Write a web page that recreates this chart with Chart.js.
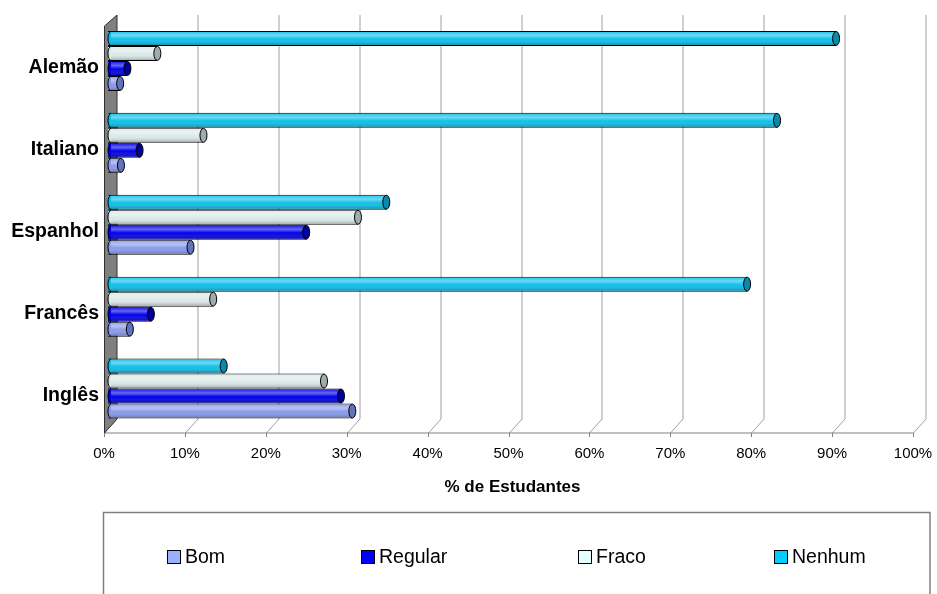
<!DOCTYPE html>
<html>
<head>
<meta charset="utf-8">
<script src="https://cdn.jsdelivr.net/npm/chart.js@4.4.1/dist/chart.umd.min.js"></script>
<style>
  html, body { margin: 0; padding: 0; background: #ffffff; }
  #wrap { width: 937px; height: 594px; position: relative; }
</style>
</head>
<body>
<div id="wrap"><canvas id="c" width="937" height="594"></canvas></div>
<script>
// ---- data ----
const categories = ['Alemão', 'Italiano', 'Espanhol', 'Francês', 'Inglês'];
const seriesNames = ['Bom', 'Regular', 'Fraco', 'Nenhum'];
const bom     = [1.5, 1.6, 10.2, 2.7, 30.2];
const regular = [2.4, 3.9, 24.5, 5.3, 28.8];
const fraco   = [6.1, 11.8, 30.9, 13.0, 26.7];
const nenhum  = [90.0, 82.7, 34.4, 79.0, 14.3];
const xTicks  = [0, 10, 20, 30, 40, 50, 60, 70, 80, 90, 100];
const axisTitle = '% de Estudantes';

// ---- styles ----
const fills = { Bom: '#8a9aea', Regular: '#0000e8', Fraco: '#dce9e9', Nenhum: '#0ebfe8' };
const caps  = { Bom: '#6272bc', Regular: '#000096', Fraco: '#a0acac', Nenhum: '#0a8aab' };
const legendFills = { Bom: '#99b0ff', Regular: '#0000ff', Fraco: '#e6ffff', Nenhum: '#00ccff' };
const FONT = "'Liberation Sans', Arial, sans-serif";
const DEPTH_X = 12.5, DEPTH_Y = 14, BAR_SHIFT = 4;

const valuesByName = { Bom: bom, Regular: regular, Fraco: fraco, Nenhum: nenhum };
// top-to-bottom order inside each group
const drawOrder = ['Nenhum', 'Fraco', 'Regular', 'Bom'];

const datasets = drawOrder.map(n => ({
  label: n,
  data: valuesByName[n],
  backgroundColor: fills[n],
  borderColor: '#000000',
  borderWidth: 1,
  categoryPercentage: 0.733,
  barPercentage: 1.0
}));

const wallAndGrid = {
  id: 'wallAndGrid',
  beforeDatasetsDraw(chart) {
    const ctx = chart.ctx;
    const xs = chart.scales.x;
    const ca = chart.chartArea;
    const frontY = ca.bottom + 3.5;
    const backY = frontY - DEPTH_Y;
    const topY = ca.top - 5;
    ctx.save();
    ctx.strokeStyle = '#a0a0a0';
    ctx.lineWidth = 1;
    xTicks.forEach(v => {
      const fx = Math.round(xs.getPixelForValue(v) - BAR_SHIFT) + 0.5;
      const bx = fx + DEPTH_X;
      if (v > 0) {
        ctx.beginPath(); ctx.moveTo(bx, topY); ctx.lineTo(bx, backY); ctx.stroke();
      }
      ctx.beginPath(); ctx.moveTo(fx, frontY); ctx.lineTo(bx, backY); ctx.stroke();
    });
    ctx.strokeStyle = '#808080';
    const x0 = Math.round(xs.getPixelForValue(0) - BAR_SHIFT) + 0.5;
    const x1 = Math.round(xs.getPixelForValue(100) - BAR_SHIFT) + 0.5;
    ctx.beginPath(); ctx.moveTo(x0, frontY); ctx.lineTo(x1, frontY); ctx.stroke();
    xTicks.forEach(v => {
      const fx = Math.round(xs.getPixelForValue(v) - BAR_SHIFT) + 0.5;
      ctx.beginPath(); ctx.moveTo(fx, frontY); ctx.lineTo(fx, frontY + 4); ctx.stroke();
    });
    ctx.fillStyle = '#808080';
    ctx.strokeStyle = '#303030';
    ctx.beginPath();
    ctx.moveTo(x0, frontY);
    ctx.lineTo(x0, topY + DEPTH_Y - 3);
    ctx.lineTo(x0 + DEPTH_X, topY);
    ctx.lineTo(x0 + DEPTH_X, backY);
    ctx.closePath();
    ctx.fill(); ctx.stroke();
    ctx.restore();
  },
  afterDatasetsDraw(chart) {
    const ctx = chart.ctx;
    ctx.save();
    chart.data.datasets.forEach((ds, di) => {
      const meta = chart.getDatasetMeta(di);
      meta.data.forEach(el => {
        const p = el.getProps(['x', 'y', 'base', 'height'], true);
        const top = p.y - p.height / 2, h = p.height;
        const g = ctx.createLinearGradient(0, top, 0, top + h);
        g.addColorStop(0, 'rgba(255,255,255,0.05)');
        g.addColorStop(0.3, 'rgba(255,255,255,0.40)');
        g.addColorStop(0.55, 'rgba(255,255,255,0.0)');
        g.addColorStop(1, 'rgba(0,0,0,0.35)');
        ctx.fillStyle = g;
        ctx.fillRect(p.base, top + 1, p.x - p.base, h - 2);
        // left rounded end
        ctx.beginPath();
        ctx.ellipse(p.base + 3, p.y, 3, h / 2 - 0.5, 0, Math.PI / 2, Math.PI * 1.5);
        ctx.fillStyle = ds.backgroundColor; ctx.fill();
        ctx.strokeStyle = '#000'; ctx.lineWidth = 1; ctx.stroke();
        // right end cap
        ctx.beginPath();
        ctx.ellipse(p.x, p.y, 3.5, h / 2 - 0.5, 0, 0, Math.PI * 2);
        ctx.fillStyle = caps[ds.label]; ctx.fill();
        ctx.stroke();
      });
    });
    ctx.restore();
  },
  afterDraw(chart) {
    const ctx = chart.ctx;
    ctx.save();
    ctx.strokeStyle = '#808080';
    ctx.lineWidth = 1.5;
    ctx.strokeRect(103.5, 512.5, 826.5, 140);
    ctx.font = '19.5px ' + FONT;
    ctx.textBaseline = 'middle';
    ctx.textAlign = 'left';
    seriesNames.forEach((n, i) => {
      const tw = ctx.measureText(n).width;
      const w = 13 + 5 + tw;
      const cx = 196 + 208 * i;
      const sx = Math.round(cx - w / 2);
      ctx.fillStyle = legendFills[n];
      ctx.fillRect(sx + 0.5, 550.5, 13, 13);
      ctx.strokeStyle = '#000'; ctx.lineWidth = 1;
      ctx.strokeRect(sx + 0.5, 550.5, 13, 13);
      ctx.fillStyle = '#000';
      ctx.fillText(n, sx + 18, 557.5);
    });
    ctx.restore();
  }
};

new Chart(document.getElementById('c'), {
  type: 'bar',
  data: { labels: categories, datasets },
  options: {
    indexAxis: 'y',
    responsive: false,
    animation: false,
    devicePixelRatio: 1,
    layout: { padding: { top: 20, right: 20, left: 0, bottom: 0 } },
    plugins: { legend: { display: false }, tooltip: { enabled: false } },
    scales: {
      x: {
        min: 0, max: 100,
        afterBuildTicks: s => { s.ticks = xTicks.map(v => ({ value: v })); },
        afterFit: s => { s.height = 164.5; s.paddingLeft = 0; s.paddingRight = 0; },
        grid: { display: false },
        border: { display: false },
        ticks: {
          callback: v => v + '%',
          font: { family: FONT, size: 15 },
          color: '#000',
          labelOffset: -BAR_SHIFT,
          padding: 7,
          maxRotation: 0
        },
        title: {
          display: true,
          text: axisTitle,
          font: { family: FONT, size: 17, weight: 'bold' },
          color: '#000',
          padding: { top: 0, bottom: 96 }
        }
      },
      y: {
        afterFit: s => { s.width = 108; s.paddingTop = 0; s.paddingBottom = 0; },
        grid: { display: false },
        border: { display: false },
        ticks: {
          font: { family: FONT, size: 19.5, weight: 'bold' },
          color: '#000',
          padding: 1,
          labelOffset: 7
        }
      }
    }
  },
  plugins: [wallAndGrid]
});
</script>
</body>
</html>
